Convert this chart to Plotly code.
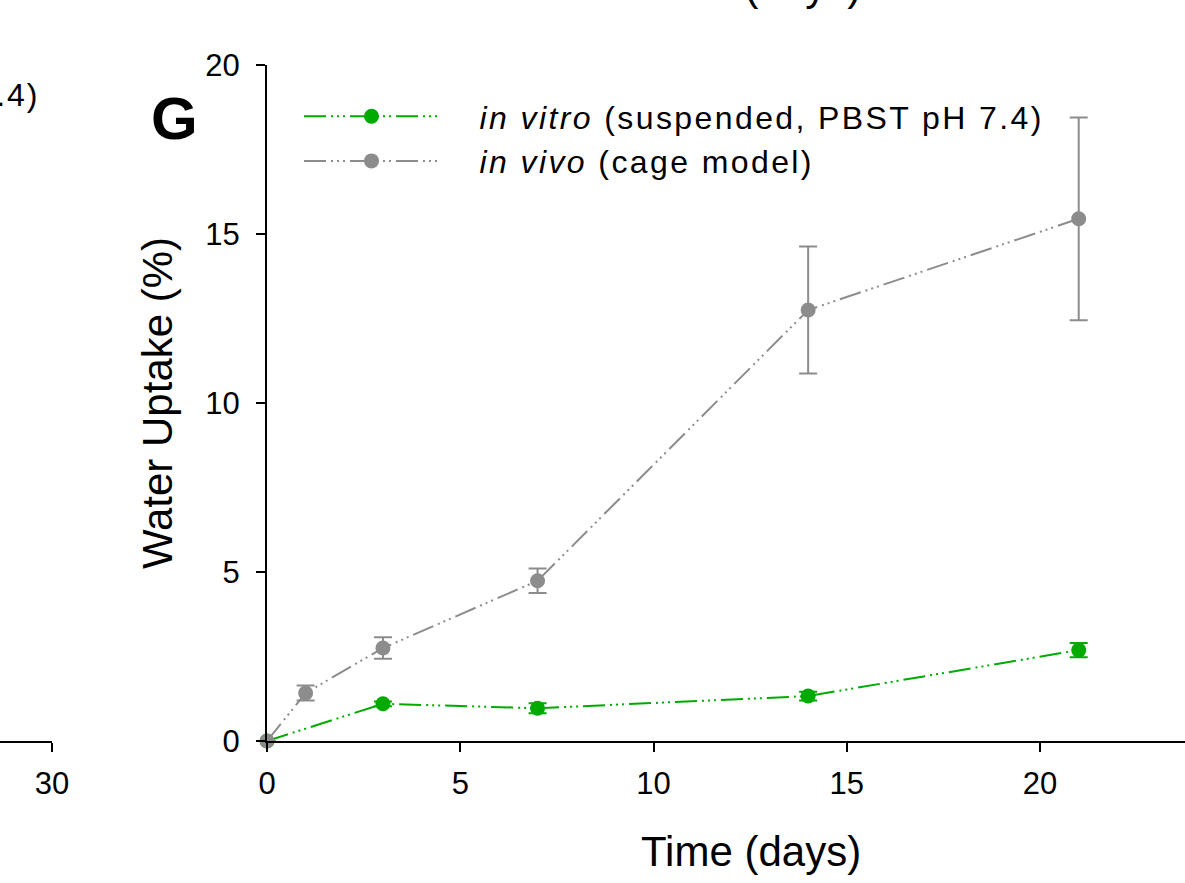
import plotly.graph_objects as go

# Data
vitro_days = [0, 3, 7, 14, 21]
vitro_uptake = [0, 1.10, 0.97, 1.33, 2.69]
vitro_err = [0, 0.07, 0.15, 0.13, 0.21]

vivo_days = [0, 1, 3, 7, 14, 21]
vivo_uptake = [0, 1.42, 2.75, 4.74, 12.75, 15.45]
vivo_err = [0, 0.22, 0.32, 0.36, 1.88, 3.0]

x_ticks = [0, 5, 10, 15, 20]
y_ticks = [0, 5, 10, 15, 20]

GREEN = "#00AA00"
GRAY = "#8C8C8C"
DASH = "22px,5px,2px,4px,2px,4px,2px,5px"
FONT = "Arial, Liberation Sans, sans-serif"
NB = "&nbsp;" * 4
SP = '<span style="letter-spacing:2.4px">'

W, H = 1185, 883
TOP, BOT = 65, 741
PH = BOT - TOP
L0 = 267 / W


def py(pix):
    return (BOT - pix) / PH


fig = go.Figure()

fig.add_trace(go.Scatter(
    x=vitro_days, y=vitro_uptake, mode="lines+markers",
    name=NB + SP + "<i>in vitro</i> (suspended, PBST pH 7.4)</span>",
    line=dict(color=GREEN, width=2, dash=DASH),
    marker=dict(color=GREEN, size=15),
    error_y=dict(type="data", array=vitro_err, color=GREEN, thickness=2, width=9),
    cliponaxis=False,
))
fig.add_trace(go.Scatter(
    x=vivo_days, y=vivo_uptake, mode="lines+markers",
    name=NB + SP + "<i>in vivo</i> (cage model)</span>",
    line=dict(color=GRAY, width=2, dash=DASH),
    marker=dict(color=GRAY, size=15),
    error_y=dict(type="data", array=vivo_err, color=GRAY, thickness=2, width=9),
    cliponaxis=False,
))
# neighbouring panel's axis (partially visible)
fig.add_trace(go.Scatter(x=[], y=[], xaxis="x2", yaxis="y2", showlegend=False))

axis_common = dict(
    ticks="outside", ticklen=9, tickwidth=2, tickcolor="black",
    showline=True, linecolor="black", linewidth=2,
    showgrid=False, zeroline=False, automargin=False,
    tickfont=dict(size=31, family=FONT, color="black"),
)

fig.update_layout(
    template="none",
    width=W, height=H,
    margin=dict(l=0, r=0, t=TOP, b=H - BOT, pad=0),
    paper_bgcolor="white", plot_bgcolor="white",
    font=dict(family=FONT, color="black"),
    showlegend=True,
    legend=dict(
        x=299 / W, y=py(89), xanchor="left", yanchor="top",
        font=dict(size=32, family=FONT, color="black"),
        itemwidth=135, bgcolor="rgba(0,0,0,0)", borderwidth=0,
        tracegroupgap=0,
    ),
    xaxis=dict(
        domain=[L0, 1], range=[0, 23.75],
        tickvals=x_ticks, ticktext=[str(v) for v in x_ticks],
        ticklabelstandoff=5,
        anchor="y", **axis_common,
    ),
    yaxis=dict(
        domain=[0, 1], range=[0, 20],
        tickvals=y_ticks, ticktext=[str(v) for v in y_ticks],
        ticklabelstandoff=10,
        title=dict(text="Water Uptake (%)", font=dict(size=42, family=FONT), standoff=20),
        anchor="x", **axis_common,
    ),
    xaxis2=dict(
        domain=[0, 52 / W], range=[20, 30],
        tickvals=[30], ticktext=["30"],
        ticklabelstandoff=5,
        anchor="y2", **axis_common,
    ),
    yaxis2=dict(domain=[0, 1], range=[0, 20], visible=False, anchor="x2"),
    annotations=[
        dict(text="<b>G</b>", xref="paper", yref="paper",
             x=174 / W, y=py(118.5), xanchor="center", yanchor="middle",
             showarrow=False, font=dict(size=60, family=FONT, color="black")),
        dict(text="Time (days)", xref="paper", yref="paper",
             x=751 / W, y=py(852), xanchor="center", yanchor="middle",
             showarrow=False, font=dict(size=42, family=FONT, color="black")),
        dict(text='<span style="letter-spacing:1.95px"><i>in vitro</i> (suspended, PBST pH 7.4)</span>',
             xref="paper", yref="paper",
             x=41 / W, y=py(95), xanchor="right", yanchor="middle",
             showarrow=False, font=dict(size=32, family=FONT, color="black")),
        dict(text="Time (days)", xref="paper", yref="paper",
             x=751 / W, y=py(-14.5), xanchor="center", yanchor="middle",
             showarrow=False, font=dict(size=42, family=FONT, color="black")),
    ],
)

fig.write_html("out.html", config={"displayModeBar": False},
               post_script="document.body.style.margin='0px';")
